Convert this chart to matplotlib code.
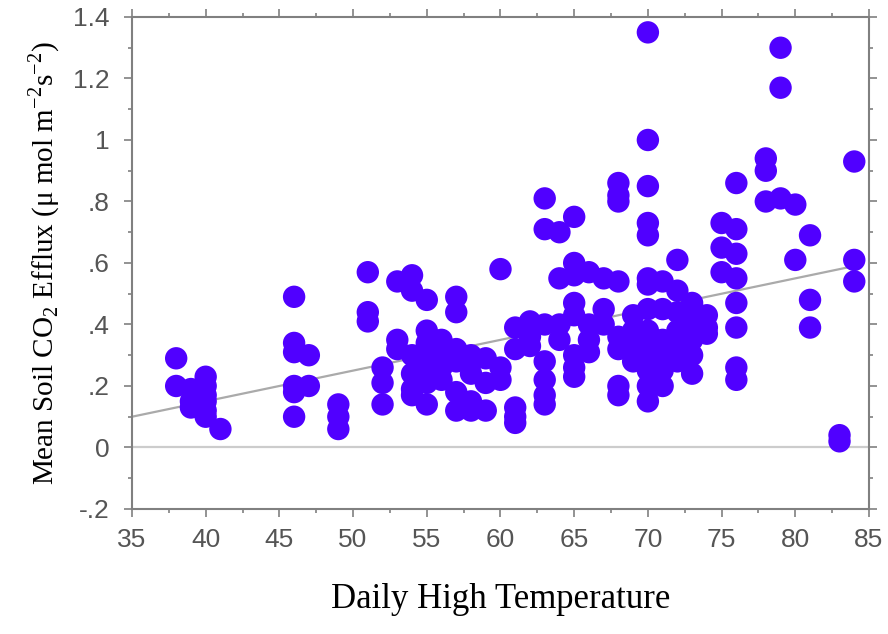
import matplotlib
matplotlib.use("Agg")
import matplotlib.pyplot as plt
from matplotlib.ticker import MultipleLocator, FuncFormatter
import numpy as np

# Daily high temperature (F) and mean soil CO2 efflux
temps = [
    38, 38,
    39, 39, 39,
    40, 40, 40, 40, 40, 40,
    41,
    46, 46, 46, 46, 46, 46,
    47, 47,
    49, 49, 49,
    51, 51, 51,
    52, 52, 52,
    53, 53, 53,
    54, 54, 54, 54, 54, 54,
    55, 55, 55, 55, 55, 55, 55,
    56, 56, 56, 56,
    57, 57, 57, 57, 57, 57,
    58, 58, 58, 58,
    59, 59, 59,
    60, 60, 60,
    61, 61, 61, 61, 61,
    62, 62, 62,
    63, 63, 63, 63, 63, 63, 63,
    64, 64, 64, 64,
    65, 65, 65, 65, 65, 65, 65, 65,
    66, 66, 66, 66,
    67, 67, 67,
    68, 68, 68, 68, 68, 68, 68, 68,
    69, 69, 69, 69,
    70, 70, 70, 70, 70, 70, 70, 70, 70, 70, 70, 70, 70, 70,
    71, 71, 71, 71, 71, 71,
    72, 72, 72, 72, 72, 72,
    73, 73, 73, 73, 73, 73,
    74, 74, 74,
    75, 75, 75,
    76, 76, 76, 76, 76, 76, 76, 76,
    78, 78, 78,
    79, 79, 79,
    80, 80,
    81, 81, 81,
    83, 83,
    84, 84, 84,
]
efflux = [
    0.29, 0.20,
    0.19, 0.15, 0.13,
    0.23, 0.20, 0.17, 0.15, 0.12, 0.10,
    0.06,
    0.49, 0.34, 0.31, 0.20, 0.18, 0.10,
    0.30, 0.20,
    0.14, 0.10, 0.06,
    0.57, 0.44, 0.41,
    0.26, 0.21, 0.14,
    0.54, 0.35, 0.32,
    0.56, 0.51, 0.30, 0.24, 0.19, 0.17,
    0.48, 0.38, 0.34, 0.30, 0.25, 0.21, 0.14,
    0.35, 0.30, 0.26, 0.22,
    0.49, 0.44, 0.32, 0.28, 0.18, 0.12,
    0.30, 0.24, 0.15, 0.12,
    0.29, 0.21, 0.12,
    0.58, 0.26, 0.22,
    0.39, 0.32, 0.13, 0.10, 0.08,
    0.41, 0.36, 0.33,
    0.81, 0.71, 0.40, 0.28, 0.22, 0.17, 0.14,
    0.70, 0.55, 0.40, 0.35,
    0.75, 0.60, 0.56, 0.47, 0.43, 0.30, 0.26, 0.23,
    0.57, 0.40, 0.35, 0.31,
    0.55, 0.45, 0.40,
    0.86, 0.82, 0.80, 0.54, 0.36, 0.32, 0.20, 0.17,
    0.43, 0.38, 0.33, 0.28,
    1.35, 1.00, 0.85, 0.73, 0.69, 0.55, 0.53, 0.45, 0.38, 0.33, 0.30, 0.25, 0.20, 0.15,
    0.54, 0.45, 0.35, 0.30, 0.25, 0.20,
    0.61, 0.51, 0.44, 0.38, 0.33, 0.28,
    0.47, 0.42, 0.38, 0.35, 0.30, 0.24,
    0.43, 0.39, 0.37,
    0.73, 0.65, 0.57,
    0.86, 0.71, 0.63, 0.55, 0.47, 0.39, 0.26, 0.22,
    0.94, 0.90, 0.80,
    1.30, 1.17, 0.81,
    0.79, 0.61,
    0.69, 0.48, 0.39,
    0.04, 0.02,
    0.93, 0.61, 0.54,
]

# fitted trend line end points
fit_x = [35, 84]
fit_y = [0.10, 0.59]

fig = plt.figure(figsize=(8.88, 6.34), dpi=100)
ax = fig.add_axes([0.1486, 0.1972, 0.830, 0.776])

ax.axhline(0, color="#cccccc", lw=1.6, zorder=1)
ax.plot(fit_x, fit_y, color="#aaaaaa", lw=1.6, zorder=1)
ax.scatter(temps, efflux, s=260, color="#5000ff", edgecolors="none", zorder=3)

ax.set_xlim(35, 85)
ax.set_ylim(-0.2, 1.4)
ax.xaxis.set_major_locator(MultipleLocator(5))
ax.xaxis.set_minor_locator(MultipleLocator(2.5))
ax.yaxis.set_major_locator(MultipleLocator(0.2))
ax.yaxis.set_minor_locator(MultipleLocator(0.1))


def strip_zero(v, pos):
    s = "%g" % round(v, 2)
    return s.replace("0.", ".")


ax.yaxis.set_major_formatter(FuncFormatter(strip_zero))

for sp in ax.spines.values():
    sp.set_color("#808080")
    sp.set_linewidth(1.5)

ax.tick_params(which="both", direction="out", color="#808080", width=1.2,
               top=True, right=True, labeltop=False, labelright=False)
ax.tick_params(which="major", length=6)
ax.tick_params(which="minor", length=3)
ax.tick_params(axis="x", which="major", pad=8)
ax.tick_params(axis="y", which="major", pad=10)
for lab in ax.get_xticklabels() + ax.get_yticklabels():
    lab.set_fontfamily("Liberation Sans")
    lab.set_fontsize(19)
    lab.set_color("#555555")

ax.set_xlabel("Daily High Temperature", family="Liberation Serif",
              fontsize=25, labelpad=22)
ax.set_ylabel("Mean Soil CO$_\\mathregular{2}$ Efflux (\u03bc mol m$^\\mathregular{-2}$s$^\\mathregular{-2}$)",
              family="Liberation Serif", fontsize=21, labelpad=8)

fig.savefig("out.png", dpi=100)
